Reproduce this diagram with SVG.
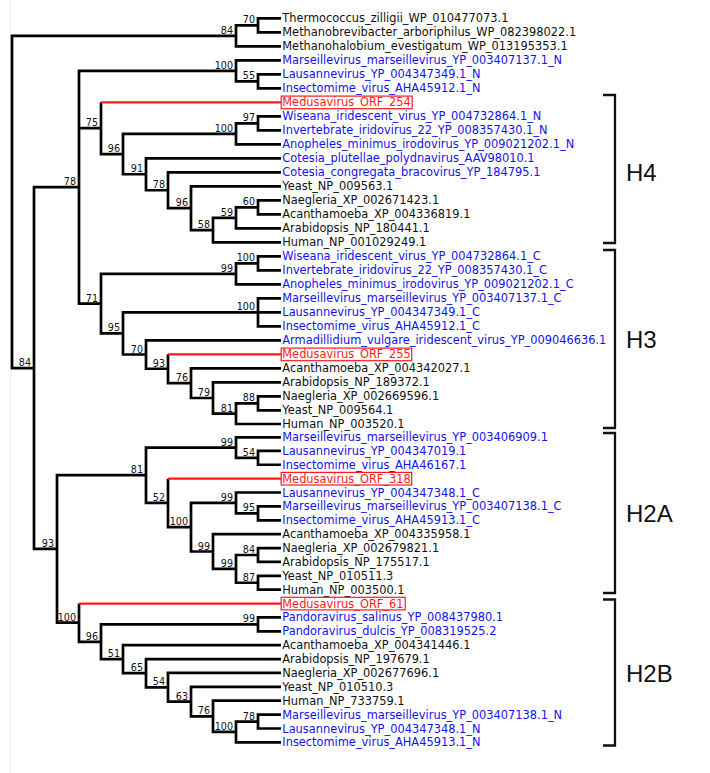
<svg xmlns="http://www.w3.org/2000/svg" width="710" height="773" viewBox="0 0 710 773">
<style>
.lf{font-family:"DejaVu Sans","Noto Sans",sans-serif;font-size:11.4px}
.k{fill:#111}
.b{fill:#1212ee}
.r{fill:#ff1a1a}
.box{fill:none;stroke:#ff1a1a;stroke-width:1.2}
.br{fill:none;stroke:#000;stroke-width:2.7;stroke-linejoin:miter;stroke-linecap:butt}
.rb{fill:none;stroke:#ff1a1a;stroke-width:2.2}
.bs{font-family:"DejaVu Sans","Noto Sans",sans-serif;font-size:9.6px;fill:#111;text-anchor:end}
.bk{fill:none;stroke:#111;stroke-width:2.3}
.cl{font-family:"Liberation Sans",Arial,sans-serif;font-size:24px;fill:#111}
</style>
<rect width="710" height="773" fill="#fff"/>
<line x1="10.5" y1="0" x2="10.5" y2="773" stroke="#ececec" stroke-width="1"/>

<g id="connectors">
<path class="br" d="M236,35.8 H12 V368.07 H34"/>
<path class="br" d="M258,25.3 H236 V46.3 H281"/>
<path class="br" d="M281,18.3 H258 V32.3 H281"/>
<path class="br" d="M79,187.2 H34 V548.93 H57"/>
<path class="br" d="M236,70.8 H79 V303.6 H101 M79,128.17 H101"/>
<path class="br" d="M281,60.3 H236 V81.3 H258"/>
<path class="br" d="M281,74.3 H258 V88.3 H281"/>
<path class="br" d="M101,102.3 V154.04 H123"/>
<path class="br" d="M236,133.8 H123 V174.27 H146"/>
<path class="br" d="M258,123.3 H236 V144.3 H281"/>
<path class="br" d="M281,116.3 H258 V130.3 H281"/>
<path class="br" d="M281,158.3 H146 V190.24 H168"/>
<path class="br" d="M281,172.3 H168 V208.18 H191"/>
<path class="br" d="M281,186.3 H191 V230.05 H213"/>
<path class="br" d="M236,217.8 H213 V242.3 H281"/>
<path class="br" d="M258,207.3 H236 V228.3 H281"/>
<path class="br" d="M281,200.3 H258 V214.3 H281"/>
<path class="br" d="M236,273.8 H101 V333.41 H123"/>
<path class="br" d="M258,263.3 H236 V284.3 H281"/>
<path class="br" d="M281,256.3 H258 V270.3 H281"/>
<path class="br" d="M258,312.3 H123 V354.52 H146"/>
<path class="br" d="M281,298.3 H258 V326.3 H281 M258,312.3 H281"/>
<path class="br" d="M281,340.3 H146 V368.74 H168"/>
<path class="br" d="M168,354.3 V383.18 H191"/>
<path class="br" d="M281,368.3 H191 V398 H213"/>
<path class="br" d="M281,382.3 H213 V413.65 H236"/>
<path class="br" d="M258,403.3 H236 V424 H281"/>
<path class="br" d="M281,396.3 H258 V410.3 H281"/>
<path class="br" d="M146,475.2 H57 V622.68 H79"/>
<path class="br" d="M236,447.6 H146 V502.93 H168"/>
<path class="br" d="M281,437.4 H236 V457.82 H258"/>
<path class="br" d="M281,450.88 H258 V464.76 H281"/>
<path class="br" d="M168,478.64 V527.22 H191"/>
<path class="br" d="M236,502.93 H191 V551.51 H213"/>
<path class="br" d="M281,492.52 H236 V513.34 H258"/>
<path class="br" d="M281,506.4 H258 V520.28 H281"/>
<path class="br" d="M281,534.16 H213 V568.86 H236"/>
<path class="br" d="M258,554.98 H236 V582.74 H258"/>
<path class="br" d="M281,548.04 H258 V561.92 H281"/>
<path class="br" d="M281,575.8 H258 V589.68 H281"/>
<path class="br" d="M79,603.56 V641.79 H101"/>
<path class="br" d="M258,624.38 H101 V659.19 H123"/>
<path class="br" d="M281,617.44 H258 V631.32 H281"/>
<path class="br" d="M281,645.2 H123 V673.18 H146"/>
<path class="br" d="M281,659.08 H146 V687.28 H168"/>
<path class="br" d="M281,672.96 H168 V701.59 H191"/>
<path class="br" d="M281,686.84 H191 V716.34 H213"/>
<path class="br" d="M281,700.72 H213 V731.95 H236"/>
<path class="br" d="M258,721.54 H236 V742.36 H281"/>
<path class="br" d="M281,714.6 H258 V728.48 H281"/>
<path class="rb" d="M101,102.3 H281 M168,354.3 H281 M168,478.64 H281 M79,603.56 H281"/>
</g>

<g id="support-values">
<text class="bs" x="255" y="23.3">70</text>
<text class="bs" x="233" y="33.8">84</text>
<text class="bs" x="233" y="68.8">100</text>
<text class="bs" x="255" y="79.3">55</text>
<text class="bs" x="98" y="126.2">75</text>
<text class="bs" x="255" y="121.3">97</text>
<text class="bs" x="233" y="131.8">100</text>
<text class="bs" x="120" y="152">96</text>
<text class="bs" x="143" y="172.3">91</text>
<text class="bs" x="165" y="188.2">78</text>
<text class="bs" x="188" y="206.2">96</text>
<text class="bs" x="255" y="205.3">60</text>
<text class="bs" x="233" y="215.8">59</text>
<text class="bs" x="210" y="228">58</text>
<text class="bs" x="76" y="185.2">78</text>
<text class="bs" x="255" y="261.3">100</text>
<text class="bs" x="233" y="271.8">99</text>
<text class="bs" x="98" y="301.6">71</text>
<text class="bs" x="120" y="331.4">95</text>
<text class="bs" x="255" y="310.3">100</text>
<text class="bs" x="143" y="352.5">70</text>
<text class="bs" x="165" y="366.7">93</text>
<text class="bs" x="188" y="381.2">76</text>
<text class="bs" x="210" y="396">79</text>
<text class="bs" x="255" y="401.3">88</text>
<text class="bs" x="233" y="411.7">81</text>
<text class="bs" x="31" y="366.1">84</text>
<text class="bs" x="54" y="546.9">93</text>
<text class="bs" x="233" y="445.6">99</text>
<text class="bs" x="255" y="455.8">54</text>
<text class="bs" x="143" y="473.2">81</text>
<text class="bs" x="165" y="500.9">52</text>
<text class="bs" x="188" y="525.2">100</text>
<text class="bs" x="233" y="500.9">99</text>
<text class="bs" x="255" y="511.3">95</text>
<text class="bs" x="210" y="549.5">99</text>
<text class="bs" x="255" y="553">84</text>
<text class="bs" x="233" y="566.9">99</text>
<text class="bs" x="255" y="580.7">87</text>
<text class="bs" x="76" y="620.7">100</text>
<text class="bs" x="98" y="639.8">96</text>
<text class="bs" x="255" y="622.4">99</text>
<text class="bs" x="120" y="657.2">51</text>
<text class="bs" x="143" y="671.2">65</text>
<text class="bs" x="165" y="685.3">54</text>
<text class="bs" x="188" y="699.6">63</text>
<text class="bs" x="210" y="714.3">76</text>
<text class="bs" x="233" y="730">100</text>
<text class="bs" x="255" y="719.5">78</text>
</g>

<g id="leaf-01"><text class="lf k" x="282.3" y="22.3">Thermococcus_zilligii_WP_010477073.1</text></g>
<g id="leaf-02"><text class="lf k" x="282.3" y="36.3">Methanobrevibacter_arboriphilus_WP_082398022.1</text></g>
<g id="leaf-03"><text class="lf k" x="282.3" y="50.3">Methanohalobium_evestigatum_WP_013195353.1</text></g>
<g id="leaf-04"><text class="lf b" x="282.3" y="64.3">Marseillevirus_marseillevirus_YP_003407137.1_N</text></g>
<g id="leaf-05"><text class="lf b" x="282.3" y="78.3">Lausannevirus_YP_004347349.1_N</text></g>
<g id="leaf-06"><text class="lf b" x="282.3" y="92.3">Insectomime_virus_AHA45912.1_N</text></g>
<g id="leaf-07"><rect class="box" x="281.2" y="96.1" width="131" height="12.6"/><text class="lf r" x="282.3" y="106.3">Medusavirus_ORF_254</text></g>
<g id="leaf-08"><text class="lf b" x="282.3" y="120.3">Wiseana_iridescent_virus_YP_004732864.1_N</text></g>
<g id="leaf-09"><text class="lf b" x="282.3" y="134.3">Invertebrate_iridovirus_22_YP_008357430.1_N</text></g>
<g id="leaf-10"><text class="lf b" x="282.3" y="148.3">Anopheles_minimus_irodovirus_YP_009021202.1_N</text></g>
<g id="leaf-11"><text class="lf b" x="282.3" y="162.3">Cotesia_plutellae_polydnavirus_AAV98010.1</text></g>
<g id="leaf-12"><text class="lf b" x="282.3" y="176.3">Cotesia_congregata_bracovirus_YP_184795.1</text></g>
<g id="leaf-13"><text class="lf k" x="282.3" y="190.3">Yeast_NP_009563.1</text></g>
<g id="leaf-14"><text class="lf k" x="282.3" y="204.3">Naegleria_XP_002671423.1</text></g>
<g id="leaf-15"><text class="lf k" x="282.3" y="218.3">Acanthamoeba_XP_004336819.1</text></g>
<g id="leaf-16"><text class="lf k" x="282.3" y="232.3">Arabidopsis_NP_180441.1</text></g>
<g id="leaf-17"><text class="lf k" x="282.3" y="246.3">Human_NP_001029249.1</text></g>
<g id="leaf-18"><text class="lf b" x="282.3" y="260.3">Wiseana_iridescent_virus_YP_004732864.1_C</text></g>
<g id="leaf-19"><text class="lf b" x="282.3" y="274.3">Invertebrate_iridovirus_22_YP_008357430.1_C</text></g>
<g id="leaf-20"><text class="lf b" x="282.3" y="288.3">Anopheles_minimus_irodovirus_YP_009021202.1_C</text></g>
<g id="leaf-21"><text class="lf b" x="282.3" y="302.3">Marseillevirus_marseillevirus_YP_003407137.1_C</text></g>
<g id="leaf-22"><text class="lf b" x="282.3" y="316.3">Lausannevirus_YP_004347349.1_C</text></g>
<g id="leaf-23"><text class="lf b" x="282.3" y="330.3">Insectomime_virus_AHA45912.1_C</text></g>
<g id="leaf-24"><text class="lf b" x="282.3" y="344.3">Armadillidium_vulgare_iridescent_virus_YP_009046636.1</text></g>
<g id="leaf-25"><rect class="box" x="281.2" y="348.1" width="130.5" height="12.6"/><text class="lf r" x="282.3" y="358.3">Medusavirus_ORF_255</text></g>
<g id="leaf-26"><text class="lf k" x="282.3" y="372.3">Acanthamoeba_XP_004342027.1</text></g>
<g id="leaf-27"><text class="lf k" x="282.3" y="386.3">Arabidopsis_NP_189372.1</text></g>
<g id="leaf-28"><text class="lf k" x="282.3" y="400.3">Naegleria_XP_002669596.1</text></g>
<g id="leaf-29"><text class="lf k" x="282.3" y="414.3">Yeast_NP_009564.1</text></g>
<g id="leaf-30"><text class="lf k" x="282.3" y="428">Human_NP_003520.1</text></g>
<g id="leaf-31"><text class="lf b" x="282.3" y="441.4">Marseillevirus_marseillevirus_YP_003406909.1</text></g>
<g id="leaf-32"><text class="lf b" x="282.3" y="454.9">Lausannevirus_YP_004347019.1</text></g>
<g id="leaf-33"><text class="lf b" x="282.3" y="468.8">Insectomime_virus_AHA46167.1</text></g>
<g id="leaf-34"><rect class="box" x="281.2" y="472.4" width="130.5" height="12.6"/><text class="lf r" x="282.3" y="482.6">Medusavirus_ORF_318</text></g>
<g id="leaf-35"><text class="lf b" x="282.3" y="496.5">Lausannevirus_YP_004347348.1_C</text></g>
<g id="leaf-36"><text class="lf b" x="282.3" y="510.4">Marseillevirus_marseillevirus_YP_003407138.1_C</text></g>
<g id="leaf-37"><text class="lf b" x="282.3" y="524.3">Insectomime_virus_AHA45913.1_C</text></g>
<g id="leaf-38"><text class="lf k" x="282.3" y="538.2">Acanthamoeba_XP_004335958.1</text></g>
<g id="leaf-39"><text class="lf k" x="282.3" y="552">Naegleria_XP_002679821.1</text></g>
<g id="leaf-40"><text class="lf k" x="282.3" y="565.9">Arabidopsis_NP_175517.1</text></g>
<g id="leaf-41"><text class="lf k" x="282.3" y="579.8">Yeast_NP_010511.3</text></g>
<g id="leaf-42"><text class="lf k" x="282.3" y="593.7">Human_NP_003500.1</text></g>
<g id="leaf-43"><rect class="box" x="281.2" y="597.3" width="124" height="12.6"/><text class="lf r" x="282.3" y="607.6">Medusavirus_ORF_61</text></g>
<g id="leaf-44"><text class="lf b" x="282.3" y="621.4">Pandoravirus_salinus_YP_008437980.1</text></g>
<g id="leaf-45"><text class="lf b" x="282.3" y="635.3">Pandoravirus_dulcis_YP_008319525.2</text></g>
<g id="leaf-46"><text class="lf k" x="282.3" y="649.2">Acanthamoeba_XP_004341446.1</text></g>
<g id="leaf-47"><text class="lf k" x="282.3" y="663.1">Arabidopsis_NP_197679.1</text></g>
<g id="leaf-48"><text class="lf k" x="282.3" y="677">Naegleria_XP_002677696.1</text></g>
<g id="leaf-49"><text class="lf k" x="282.3" y="690.8">Yeast_NP_010510.3</text></g>
<g id="leaf-50"><text class="lf k" x="282.3" y="704.7">Human_NP_733759.1</text></g>
<g id="leaf-51"><text class="lf b" x="282.3" y="718.6">Marseillevirus_marseillevirus_YP_003407138.1_N</text></g>
<g id="leaf-52"><text class="lf b" x="282.3" y="732.5">Lausannevirus_YP_004347348.1_N</text></g>
<g id="leaf-53"><text class="lf b" x="282.3" y="746.4">Insectomime_virus_AHA45913.1_N</text></g>

<g id="clade-H4"><path class="bk" d="M603,95 H615 V243 H603"/><text class="cl" x="626" y="181">H4</text></g>
<g id="clade-H3"><path class="bk" d="M603,250 H615 V428 H603"/><text class="cl" x="626" y="348">H3</text></g>
<g id="clade-H2A"><path class="bk" d="M603,433 H615 V593 H603"/><text class="cl" x="626" y="522">H2A</text></g>
<g id="clade-H2B"><path class="bk" d="M603,599.5 H615 V745.5 H603"/><text class="cl" x="626" y="682">H2B</text></g>
</svg>
